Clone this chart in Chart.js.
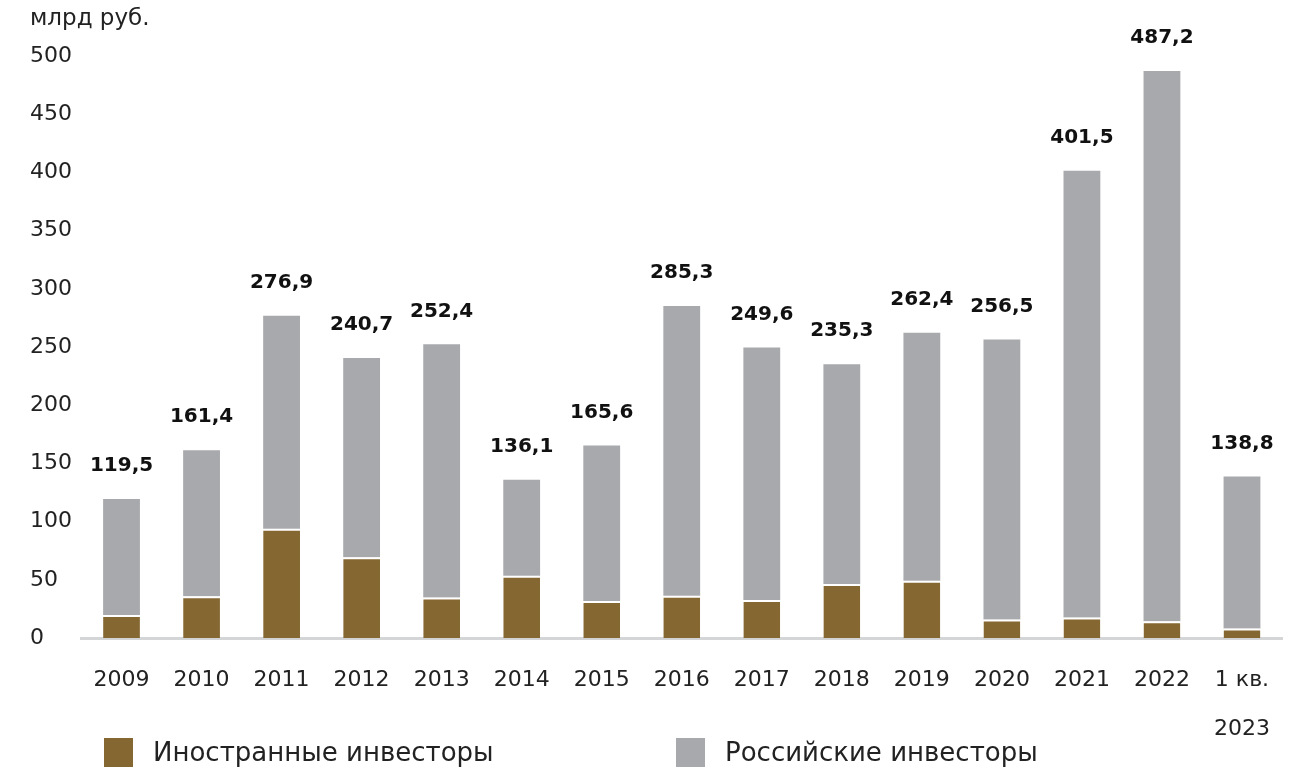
<!DOCTYPE html>
<html>
<head>
<meta charset="utf-8">
<script src="https://cdn.jsdelivr.net/npm/chart.js@4.4.0/dist/chart.umd.min.js"></script>
<style>
  body { margin: 0; background: #fff; font-family: "DejaVu Sans", sans-serif; }
  #wrap { position: relative; width: 1303px; height: 769px; }
  #chart { position: absolute; left: 0; top: 0; }
  #unit { position: absolute; left: 30px; top: 4px; font-size: 23px; color: #222; }
  .legend { position: absolute; top: 737px; display: flex; align-items: center; font-size: 26px; color: #222; }
  .legend span.box { display: inline-block; width: 29px; height: 29px; margin-right: 20px; }
</style>
</head>
<body>
<div id="wrap">
  <canvas id="chart" width="1303" height="769"></canvas>
  <div id="unit">млрд руб.</div>
  <div class="legend" style="left:104px"><span class="box" style="background:#846731"></span>Иностранные инвесторы</div>
  <div class="legend" style="left:676px"><span class="box" style="background:#a8a9ac"></span>Российские инвесторы</div>
</div>
<script>
// Categories
const years = ['2009', '2010', '2011', '2012', '2013', '2014', '2015', '2016', '2017',
               '2018', '2019', '2020', '2021', '2022', ['1 кв.', '2023']];

// Foreign investors
const foreign = [20, 36, 94, 69.5, 35, 53.7, 32, 36.5, 32.7, 46.5, 49.4, 16, 17.8, 14.6, 8.3];

// Russian investors
const russian = [99.5, 125.4, 182.9, 171.2, 217.4, 82.4, 133.6, 248.8, 216.9, 188.8, 213.0, 240.5, 383.7, 472.6, 130.5];

// Totals shown above bars
const totals = ['119,5', '161,4', '276,9', '240,7', '252,4', '136,1', '165,6', '285,3', '249,6',
                '235,3', '262,4', '256,5', '401,5', '487,2', '138,8'];

const FONT = '"DejaVu Sans", sans-serif';

// Draw totals above each stack
const totalLabels = {
    id: 'totalLabels',
    afterDatasetsDraw(chart) {
        const ctx = chart.ctx;
        const meta = chart.getDatasetMeta(1);
        ctx.save();
        ctx.font = 'bold 20px ' + FONT;
        ctx.fillStyle = '#111';
        ctx.textAlign = 'center';
        ctx.textBaseline = 'middle';
        meta.data.forEach((bar, i) => {
            ctx.fillText(totals[i], bar.x, bar.y - 33);
        });
        ctx.restore();
    }
};

const ctx = document.getElementById('chart').getContext('2d');
new Chart(ctx, {
    type: 'bar',
    data: {
        labels: years,
        datasets: [{
            label: 'Иностранные инвесторы',
            data: foreign,
            backgroundColor: '#846731',
            borderColor: '#ffffff',
            borderWidth: { top: 2, left: 0, right: 0, bottom: 0 },
            borderSkipped: false
        }, {
            label: 'Российские инвесторы',
            data: russian,
            backgroundColor: '#a8a9ac',
            borderWidth: 0
        }]
    },
    options: {
        responsive: false,
        animation: false,
        layout: { padding: { left: 30, right: 21, top: 56, bottom: 6 } },
        datasets: { bar: { barPercentage: 0.46, categoryPercentage: 1 } },
        plugins: {
            legend: { display: false },
            tooltip: { enabled: false }
        },
        scales: {
            x: {
                stacked: true,
                grid: { display: false },
                border: { display: true, color: '#d4d5d7', width: 3 },
                ticks: {
                    color: '#222',
                    padding: 10,
                    maxRotation: 0,
                    autoSkip: false,
                    font: { family: FONT, size: 22, lineHeight: 2.2 }
                }
            },
            y: {
                stacked: true,
                min: 0,
                max: 500,
                grid: { display: false },
                border: { display: false },
                afterFit(scale) { scale.width = 51.5; },
                ticks: {
                    stepSize: 50,
                    crossAlign: 'far',
                    color: '#222',
                    font: { family: FONT, size: 22 }
                }
            }
        }
    },
    plugins: [totalLabels]
});
</script>
</body>
</html>
